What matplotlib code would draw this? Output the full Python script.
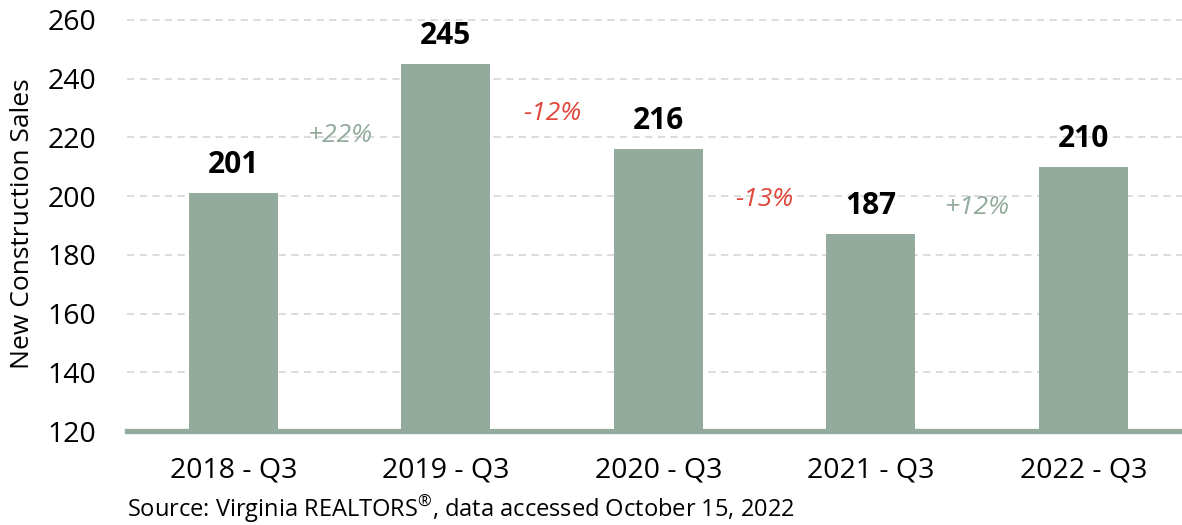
import matplotlib.pyplot as plt

# New construction sales, Q3 of each year
quarters = ['2018 - Q3', '2019 - Q3', '2020 - Q3', '2021 - Q3', '2022 - Q3']
sales = [201, 245, 216, 187, 210]
changes = ['+22%', '-12%', '-13%', '+12%']

bar_color = '#93ab9d'
red = '#e0463a'

plt.rcParams['font.family'] = ['Open Sans', 'DejaVu Sans']
plt.rcParams['mathtext.fontset'] = 'custom'
plt.rcParams['mathtext.rm'] = 'Open Sans'

fig = plt.figure(figsize=(11.82, 5.25), dpi=100)
ax = fig.add_axes([0.1074, 0.179, 0.8926, 0.7886])

x = list(range(len(quarters)))
ax.bar(x, sales, width=0.42, color=bar_color, zorder=3)

# value labels above each bar
for i, v in enumerate(sales):
    ax.text(i, v + 4.5, str(v), ha='center', va='bottom',
            fontsize=21.5, fontweight='bold', color='black', zorder=4)

# percentage change between consecutive bars
for i, c in enumerate(changes):
    mid = (sales[i] + sales[i + 1]) / 2 - 2.5
    col = red if c.startswith('-') else bar_color
    ax.text(i + 0.5, mid, c, ha='center', va='center',
            fontsize=19, fontstyle='italic', color=col, zorder=4)

ax.set_xlim(-0.5, 4.465)
ax.set_ylim(120, 261)
ax.set_yticks(range(120, 261, 20))
ax.set_xticks(x)
ax.set_xticklabels(quarters)

ax.grid(axis='y', color='#d9d9d9', linestyle=(0, (4, 3)), linewidth=1.3, zorder=0)
ax.axhline(120, color=bar_color, linewidth=3.8, zorder=5, clip_on=False)

for s in ax.spines.values():
    s.set_visible(False)
ax.tick_params(axis='both', length=0, labelsize=20.5, colors='black')
ax.tick_params(axis='x', pad=18)
ax.tick_params(axis='y', pad=22)

ax.set_ylabel('New Construction Sales', fontsize=19)
ax.yaxis.set_label_coords(-0.087, 0.5)

fig.text(0.1074, 0.016,
         'Source: Virginia REALTORS$^{\\mathrm{\u00ae}}$, data accessed October 15, 2022',
         fontsize=17, ha='left', va='baseline')

fig.savefig('out.png', dpi=100)
